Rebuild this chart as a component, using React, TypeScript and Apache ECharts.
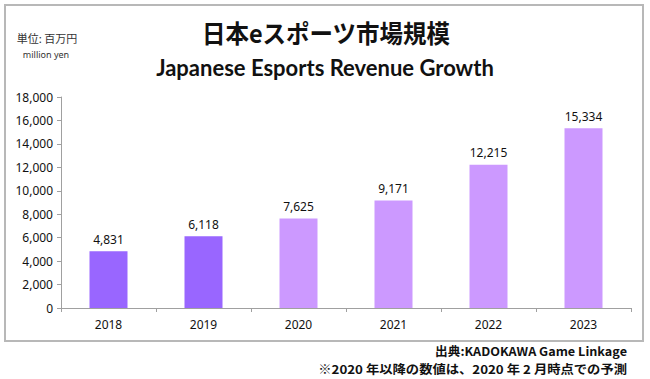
import React, { useEffect, useRef } from "react";
import * as echarts from "echarts";

const categories = ["2018", "2019", "2020", "2021", "2022", "2023"];
const revenue = [4831, 6118, 7625, 9171, 12215, 15334];
const isForecast = [false, false, true, true, true, true];
const yTicks = { min: 0, max: 18000, interval: 2000 };

const titleJa = "日本eスポーツ市場規模";
const titleEn = "Japanese Esports Revenue Growth";
const unitJa = "単位: 百万円";
const unitEn = "million yen";
const source = "出典:KADOKAWA Game Linkage";
const note = "※2020 年以降の数値は、2020 年 2 月時点での予測";

export default function App() {
  const ref = useRef<HTMLDivElement>(null);
  useEffect(() => {
    document.body.style.margin = "0";
    const chart = echarts.init(ref.current!, null, { renderer: "svg" });
    chart.setOption({
      animation: false,
      backgroundColor: "#ffffff",
      grid: { left: 61, right: 19, top: 97, bottom: 71 },
      graphic: [
        {
          type: "rect",
          shape: { x: 5, y: 5, width: 638, height: 336 },
          style: { fill: "none", stroke: "#b8b8b8", lineWidth: 2 },
          silent: true,
        },
        {
          type: "text",
          x: 326,
          y: 32,
          scaleX: 0.94,
          style: {
            text: titleJa,
            fontSize: 25,
            fontWeight: "bold",
            fontFamily: "Noto Sans CJK JP",
            fill: "#111",
            align: "center",
            verticalAlign: "middle",
          },
        },
        {
          type: "text",
          x: 325,
          y: 67,
          style: {
            text: titleEn,
            fontSize: 22,
            fontWeight: "bold",
            fontFamily: "Lato",
            fill: "#111",
            align: "center",
            verticalAlign: "middle",
          },
        },
        {
          type: "text",
          x: 47,
          y: 38,
          style: {
            text: unitJa,
            fontSize: 11,
            fontFamily: "Noto Sans CJK JP",
            fill: "#333",
            align: "center",
            verticalAlign: "middle",
          },
        },
        {
          type: "text",
          x: 46,
          y: 54,
          style: {
            text: unitEn,
            fontSize: 9,
            fontFamily: "Noto Sans",
            fill: "#333",
            align: "center",
            verticalAlign: "middle",
          },
        },
        {
          type: "text",
          x: 627,
          y: 351,
          scaleX: 1.055,
          style: {
            text: source,
            fontSize: 12,
            fontFamily: "Noto Sans CJK JP",
            fontWeight: "bold",
            fill: "#111",
            align: "right",
            verticalAlign: "middle",
          },
        },
        {
          type: "text",
          x: 627,
          y: 369,
          scaleX: 1.11,
          style: {
            text: note,
            fontSize: 12,
            fontFamily: "Noto Sans CJK JP",
            fontWeight: "bold",
            fill: "#111",
            align: "right",
            verticalAlign: "middle",
          },
        },
      ],
      xAxis: {
        type: "category",
        data: categories,
        boundaryGap: true,
        axisLine: { lineStyle: { color: "#a0a0a0", width: 1 } },
        axisTick: { show: true, length: 4, lineStyle: { color: "#a0a0a0" } },
        axisLabel: {
          color: "#111",
          fontSize: 12,
          fontFamily: "Noto Sans",
          margin: 10,
        },
        splitLine: { show: false },
      },
      yAxis: {
        type: "value",
        min: yTicks.min,
        max: yTicks.max,
        interval: yTicks.interval,
        axisLine: { show: true, lineStyle: { color: "#a0a0a0", width: 1 } },
        axisTick: { show: true, length: 4, lineStyle: { color: "#a0a0a0" } },
        axisLabel: {
          color: "#111",
          fontSize: 12,
          fontFamily: "Noto Sans",
          margin: 8,
          formatter: (v: number) => v.toLocaleString("en-US"),
        },
        splitLine: { show: false },
      },
      series: [
        {
          type: "bar",
          barWidth: "40%",
          data: revenue.map((v, i) => ({
            value: v,
            itemStyle: { color: isForecast[i] ? "#cc99ff" : "#9966ff" },
          })),
          label: {
            show: true,
            position: "top",
            distance: 6,
            color: "#111",
            fontSize: 12,
            fontFamily: "Noto Sans",
            formatter: (p: any) => Number(p.value).toLocaleString("en-US"),
          },
        },
      ],
    });
    return () => chart.dispose();
  }, []);
  return <div ref={ref} style={{ width: 650, height: 379 }} />;
}
